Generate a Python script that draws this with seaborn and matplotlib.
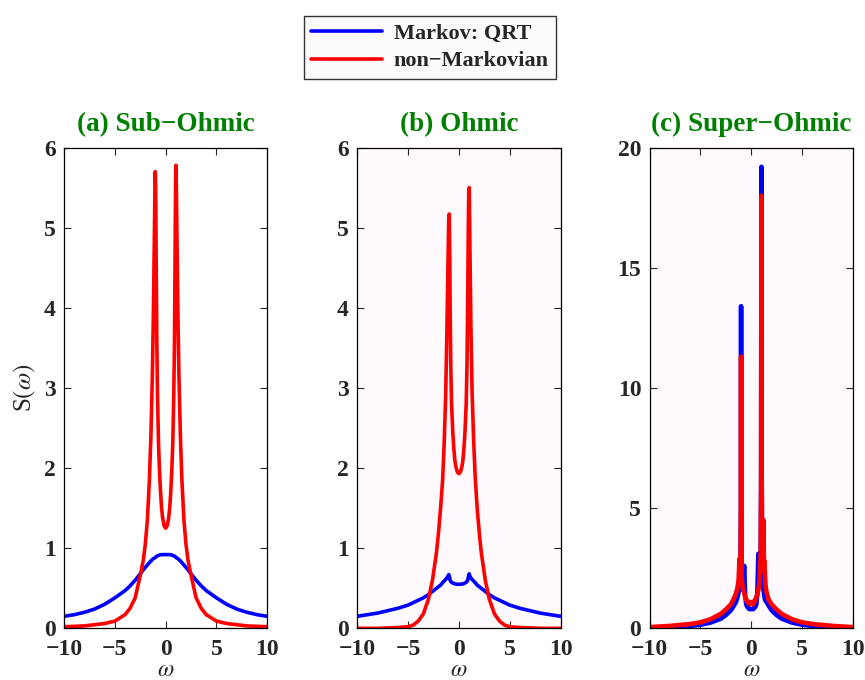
import pandas as pd
import matplotlib.pyplot as plt
import seaborn as sns

# ---- data ----
omega_a = [-10, -9, -8, -7, -6, -5, -4, -3.5, -3, -2.5, -2.2, -2, -1.8, -1.6, -1.45,
           -1.3, -1.2, -1.12, -1.06, -1.02, -0.98, -0.93, -0.87, -0.8, -0.7, -0.6,
           -0.5, -0.4, -0.3, -0.15, 0, 0.15, 0.3, 0.4, 0.5, 0.6, 0.7, 0.8, 0.87,
           0.93, 0.98, 1.02, 1.06, 1.12, 1.2, 1.3, 1.45, 1.6, 1.8, 2, 2.2, 2.5, 3,
           3.5, 4, 5, 6, 7, 8, 9, 10]
markov_a = [0.15, 0.17, 0.20, 0.24, 0.30, 0.38, 0.47, 0.53, 0.60, 0.68, 0.73, 0.76,
            0.79, 0.82, 0.84, 0.86, 0.87, 0.875, 0.88, 0.885, 0.89, 0.895, 0.90, 0.905,
            0.91, 0.915, 0.918, 0.92, 0.92, 0.92, 0.92, 0.92, 0.92, 0.92, 0.918, 0.915,
            0.91, 0.905, 0.90, 0.895, 0.89, 0.885, 0.88, 0.875, 0.87, 0.86, 0.84, 0.82,
            0.79, 0.76, 0.73, 0.68, 0.60, 0.53, 0.47, 0.38, 0.30, 0.24, 0.20, 0.17, 0.15]
nonmarkov_a = [0.02, 0.025, 0.03, 0.045, 0.06, 0.09, 0.17, 0.25, 0.38, 0.66, 0.85, 1.05,
               1.35, 1.85, 2.4, 3.2, 4.0, 4.8, 5.4, 5.7, 5.5, 4.6, 3.6, 2.9, 2.3, 1.95,
               1.7, 1.5, 1.38, 1.28, 1.25, 1.28, 1.38, 1.5, 1.7, 1.95, 2.3, 2.9, 3.6,
               4.7, 5.6, 5.78, 5.45, 4.8, 4.0, 3.2, 2.4, 1.85, 1.35, 1.05, 0.85, 0.66,
               0.38, 0.25, 0.17, 0.09, 0.06, 0.045, 0.03, 0.025, 0.02]

omega_b = [-10, -9, -8, -7, -6, -5, -4.5, -4, -3.5, -3, -2.6, -2.2, -2, -1.8, -1.6,
           -1.45, -1.3, -1.18, -1.08, -1.0, -0.95, -0.9, -0.86, -0.8, -0.72, -0.6,
           -0.5, -0.4, -0.3, -0.15, 0, 0.15, 0.3, 0.4, 0.5, 0.6, 0.72, 0.8, 0.86,
           0.92, 0.97, 1.02, 1.08, 1.18, 1.3, 1.45, 1.6, 1.8, 2, 2.2, 2.6, 3, 3.5,
           4, 4.5, 5, 6, 7, 8, 9, 10]
markov_b = [0.15, 0.17, 0.19, 0.22, 0.25, 0.29, 0.32, 0.35, 0.38, 0.42, 0.46, 0.50,
            0.52, 0.54, 0.57, 0.59, 0.61, 0.63, 0.65, 0.67, 0.66, 0.62, 0.60, 0.585,
            0.575, 0.565, 0.56, 0.555, 0.553, 0.55, 0.55, 0.55, 0.553, 0.555, 0.56,
            0.565, 0.575, 0.585, 0.60, 0.63, 0.67, 0.68, 0.65, 0.63, 0.61, 0.59,
            0.57, 0.54, 0.52, 0.50, 0.46, 0.42, 0.38, 0.35, 0.32, 0.29, 0.25, 0.22,
            0.19, 0.17, 0.15]
nonmarkov_b = [0.0, 0.0, 0.0, 0.005, 0.01, 0.02, 0.04, 0.09, 0.18, 0.36, 0.6, 0.95,
               1.2, 1.5, 1.85, 2.3, 2.9, 3.7, 4.5, 5.1, 5.17, 4.7, 4.0, 3.3, 2.8, 2.45,
               2.25, 2.1, 2.02, 1.95, 1.93, 1.95, 2.02, 2.1, 2.25, 2.45, 2.8, 3.3, 4.0,
               4.9, 5.45, 5.5, 4.8, 3.8, 2.95, 2.35, 1.9, 1.5, 1.2, 0.95, 0.6, 0.36,
               0.18, 0.09, 0.04, 0.02, 0.01, 0.005, 0.0, 0.0, 0.0]

omega_c = [-10, -8, -6, -5, -4, -3, -2.5, -2, -1.7, -1.5, -1.35, -1.25, -1.15, -1.1,
           -1.05, -1.02, -1.0, -0.98, -0.95, -0.9, -0.85, -0.8, -0.7, -0.6, -0.5,
           -0.4, -0.3, -0.2, -0.1, 0, 0.1, 0.2, 0.3, 0.4, 0.5, 0.6, 0.7, 0.8, 0.88,
           0.93, 0.97, 1.0, 1.03, 1.07, 1.12, 1.16, 1.2, 1.25, 1.3, 1.35, 1.4, 1.5,
           1.7, 2, 2.5, 3, 4, 5, 6, 8, 10]
markov_c = [0.03, 0.06, 0.1, 0.15, 0.24, 0.4, 0.55, 0.75, 0.95, 1.1, 1.3, 1.5, 1.8,
            2.0, 2.6, 5.0, 13.4, 5.0, 2.4, 1.8, 1.6, 1.7, 2.6, 1.4, 1.0, 0.9, 0.85,
            0.8, 0.8, 0.8, 0.8, 0.8, 0.85, 0.9, 1.0, 1.5, 3.1, 1.8, 1.9, 2.6, 6.0,
            19.2, 6.0, 2.4, 2.0, 1.8, 1.6, 1.5, 1.3, 1.2, 1.15, 1.1, 0.95, 0.75, 0.55,
            0.4, 0.24, 0.15, 0.1, 0.06, 0.03]
nonmarkov_c = [0.05, 0.1, 0.18, 0.25, 0.38, 0.6, 0.78, 1.0, 1.25, 1.45, 1.7, 2.0, 2.9,
               2.3, 3.0, 5.0, 11.3, 5.0, 2.2, 1.9, 1.7, 1.6, 1.5, 1.3, 1.2, 1.1, 1.05,
               1.1, 1.0, 1.05, 1.1, 1.0, 1.1, 1.2, 1.3, 1.4, 1.6, 1.9, 2.5, 3.2, 6.0,
               18.0, 6.0, 3.0, 2.4, 3.5, 4.5, 2.5, 2.8, 2.2, 1.8, 1.5, 1.2, 1.0, 0.78,
               0.6, 0.38, 0.25, 0.18, 0.1, 0.05]

titles = ['(a) Sub\u2212Ohmic', '(b) Ohmic', '(c) Super\u2212Ohmic']
y_maxes = [6, 6, 20]
y_ticks = [[0, 1, 2, 3, 4, 5, 6], [0, 1, 2, 3, 4, 5, 6], [0, 5, 10, 15, 20]]
x_ticks = [-10, -5, 0, 5, 10]


def main():
    sns.set_style('ticks')
    plt.rcParams['font.family'] = ['Liberation Serif', 'DejaVu Serif']
    plt.rcParams['mathtext.fontset'] = 'stix'

    fig = plt.figure(figsize=(8.65, 6.8), dpi=100)
    lefts = [0.074, 0.413, 0.751]
    panels = [(omega_a, markov_a, nonmarkov_a),
              (omega_b, markov_b, nonmarkov_b),
              (omega_c, markov_c, nonmarkov_c)]
    bgs = ['white', '#fdf9fd', '#fdf9fd']

    for i, (om, mk, nm) in enumerate(panels):
        ax = fig.add_axes([lefts[i], 0.076, 0.235, 0.707])
        ax.set_facecolor(bgs[i])
        df = pd.DataFrame({'omega': om, 'markov': mk, 'nonmarkov': nm})
        lw = 2.6 if i < 2 else 3.3
        sns.lineplot(data=df, x='omega', y='markov', ax=ax, color='#0000ff',
                     linewidth=lw, estimator=None, label='Markov: QRT')
        sns.lineplot(data=df, x='omega', y='nonmarkov', ax=ax, color='#ff0000',
                     linewidth=lw, estimator=None, label='non\u2212Markovian')
        ax.get_legend().remove()

        ax.set_xlim(-10, 10)
        ax.set_ylim(0, y_maxes[i])
        ax.set_xticks(x_ticks)
        ax.set_yticks(y_ticks[i])
        ax.set_xticklabels([str(t).replace('-', '\u2212') for t in x_ticks],
                           fontweight='bold', fontsize=17)
        ax.set_yticklabels([str(t) for t in y_ticks[i]], fontweight='bold', fontsize=17)
        ax.tick_params(direction='in', top=True, right=True, length=5, width=0.8)
        ax.tick_params(axis='x', pad=8)
        ax.tick_params(axis='y', pad=6)
        for sp in ax.spines.values():
            sp.set_visible(True)
            sp.set_color('black')
            sp.set_linewidth(0.9)
        ax.set_xlabel(r'$\omega$', fontsize=17, labelpad=0)
        ax.set_ylabel('')
        ax.set_title(titles[i], color='#008000', fontweight='bold', fontsize=19.5,
                     pad=12)
        if i == 0:
            ax.set_ylabel(r'S$(\omega)$', fontsize=18, labelpad=4)
            handles = ax.get_lines()[:2]

    leg = fig.legend(handles, ['Markov: QRT', 'non\u2212Markovian'], loc='center',
                     bbox_to_anchor=(0.497, 0.93), frameon=True, fancybox=False,
                     edgecolor='black', prop={'weight': 'bold', 'size': 16},
                     handlelength=3.2, borderpad=0.35, labelspacing=0.3,
                     handletextpad=0.5, borderaxespad=0)
    leg.get_frame().set_linewidth(1.0)
    leg.get_frame().set_facecolor('#fdf9fd')

    fig.savefig('out.png', dpi=100)


if __name__ == '__main__':
    main()
